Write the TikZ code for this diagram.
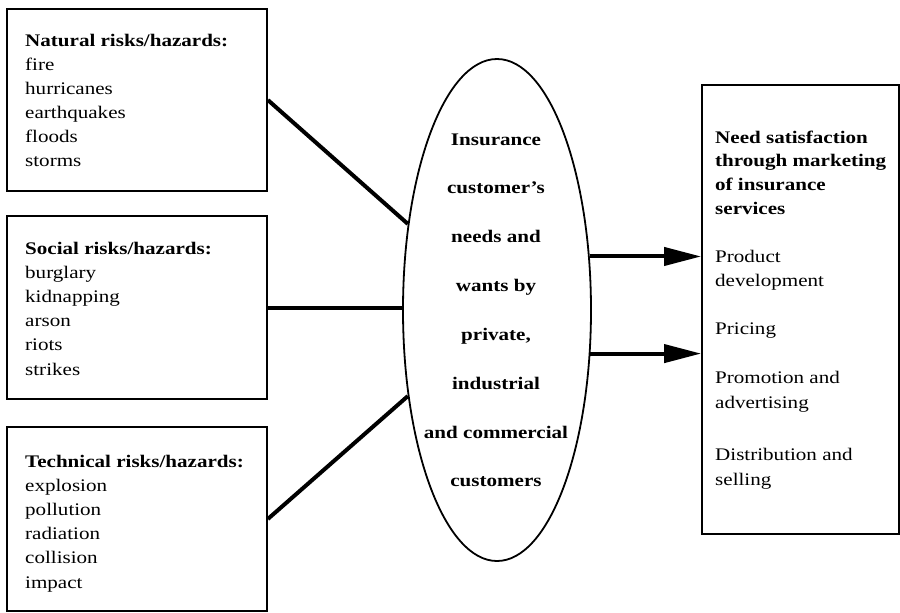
\documentclass[tikz,border=0pt]{standalone}
\usepackage{fontspec}
\setmainfont{Liberation Serif}[FakeStretch=1.19]
\usetikzlibrary{shapes.geometric,arrows.meta}

% stacked lines with a fixed baseline distance; the box baseline is that of the first line
\newcommand\leftlines[2]{\vtop{\baselineskip=#1\lineskiplimit=-50pt\lineskip=0pt
  \halign{##\hfil\cr#2\crcr}}}
\newcommand\midlines[2]{\vtop{\baselineskip=#1\lineskiplimit=-50pt\lineskip=0pt
  \halign{\hfil##\hfil\cr#2\crcr}}}

\tikzset{
  frame/.style={draw, line width=1.7pt, inner sep=0pt},
  txt/.style={inner sep=0pt, font=\fontsize{17.7pt}{24pt}\selectfont},
  link/.style={line width=4pt},
  flow/.style={line width=4pt, -{Triangle[length=37pt,width=18pt]}},
}

\begin{document}
\begin{tikzpicture}[x=1pt,y=-1pt]
\useasboundingbox (0,0) rectangle (900,613);

% risk boxes on the left
\node[frame, minimum width=260pt, minimum height=182pt] (nat)  at (137,100) {};
\node[frame, minimum width=260pt, minimum height=183pt] (soc)  at (137,307.5) {};
\node[frame, minimum width=260pt, minimum height=184pt] (tech) at (137,519) {};

% customer needs ellipse
\node[frame, line width=1.8pt, ellipse, minimum width=188pt, minimum height=502pt] (ell) at (497,310) {};

% marketing box on the right
\node[frame, minimum width=197pt, minimum height=449pt] (mkt) at (800.5,309.5) {};

% texts of the risk boxes
\node[txt, anchor=base west] (natT) at (25,46) {\leftlines{24.1pt}{\textbf{Natural risks/hazards:}\cr
  fire\cr hurricanes\cr earthquakes\cr floods\cr storms}};
\node[txt, anchor=base west] (socT) at (25,254) {\leftlines{24.2pt}{\textbf{Social risks/hazards:}\cr
  burglary\cr kidnapping\cr arson\cr riots\cr strikes}};
\node[txt, anchor=base west] (techT) at (25,467) {\leftlines{24.2pt}{\textbf{Technical risks/hazards:}\cr
  explosion\cr pollution\cr radiation\cr collision\cr impact}};

% text of the ellipse
\node[txt, font=\fontsize{17.7pt}{24pt}\selectfont\bfseries, anchor=base] (ellT) at (496,145)
  {\midlines{48.85pt}{Insurance\cr customer's\cr needs and\cr wants by\cr private,\cr
  industrial\cr and commercial\cr customers}};

% texts of the marketing box
\node[txt, anchor=base west] (mktH) at (715,143) {\leftlines{23.8pt}{\textbf{Need satisfaction}\cr
  \textbf{through marketing}\cr \textbf{of insurance}\cr \textbf{services}}};
\node[txt, anchor=base west] (mktA) at (715,262) {\leftlines{24pt}{Product\cr development}};
\node[txt, anchor=base west] (mktB) at (715,334) {\leftlines{24pt}{Pricing}};
\node[txt, anchor=base west] (mktC) at (715,383) {\leftlines{25pt}{Promotion and\cr advertising}};
\node[txt, anchor=base west] (mktD) at (715,460) {\leftlines{25pt}{Distribution and\cr selling}};

% connectors from the risk boxes to the ellipse
\draw[link] (nat.east) -- (ell.136);
\draw[link] (soc.east) -- (soc.east -| ell.west);
\draw[link] (tech.east) -- (ell.224);

% arrows to the marketing box
\draw[flow] (ell.30) -- (ell.30 -| mkt.west);
\draw[flow] (ell.-25) -- (ell.-25 -| mkt.west);
\end{tikzpicture}
\end{document}
